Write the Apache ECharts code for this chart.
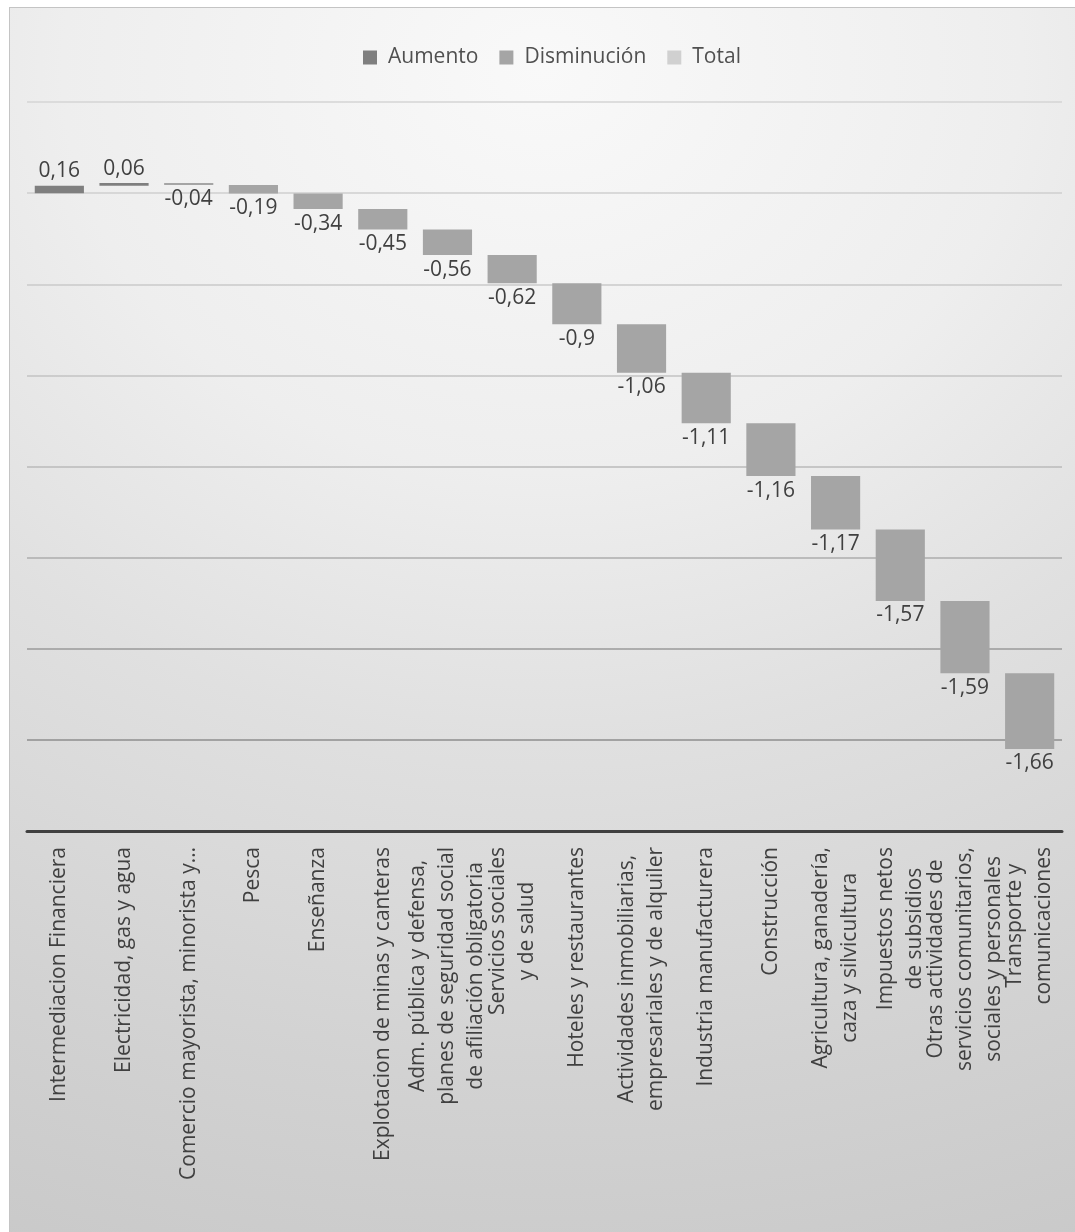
<!DOCTYPE html>
<html>
<head>
<meta charset="utf-8">
<script src="https://cdn.jsdelivr.net/npm/echarts@6/dist/echarts.min.js"></script>
<style>
  html, body { margin: 0; padding: 0; background: #ffffff; }
  #bg {
    position: absolute; left: 9px; top: 7px; width: 1066px; height: 1225px;
    box-sizing: border-box;
    border-left: 1px solid #c4c4c4; border-top: 1px solid #c4c4c4;
    background: radial-gradient(ellipse 150% 110% at 50% 5%,
      #f9f9f9 0%, #eeeeee 30%, #e0e0e0 50%, #d2d2d2 75%, #c6c6c6 100%);
  }
  #chart { position: absolute; left: 0; top: 0; width: 1075px; height: 1232px; }
</style>
</head>
<body>
<div id="bg"></div>
<div id="chart"></div>
<script>
// Sector contributions (percentage points), in display order
const categories = [
  'Intermediacion Financiera',
  'Electricidad, gas y agua',
  'Comercio mayorista, minorista y…',
  'Pesca',
  'Enseñanza',
  'Explotacion de minas y canteras',
  'Adm. pública y defensa,\nplanes de seguridad social\nde afiliación obligatoria',
  'Servicios sociales\ny de salud',
  'Hoteles y restaurantes',
  'Actividades inmobiliarias,\nempresariales y de alquiler',
  'Industria manufacturera',
  'Construcción',
  'Agricultura, ganadería,\ncaza y silvicultura',
  'Impuestos netos\nde subsidios',
  'Otras actividades de\nservicios comunitarios,\nsociales y personales',
  'Transporte y\ncomunicaciones'
];
const changes = [0.16, 0.06, -0.04, -0.19, -0.34, -0.45, -0.56, -0.62, -0.9, -1.06, -1.11, -1.16, -1.17, -1.57, -1.59, -1.66];
const seriesNames = ['Aumento', 'Disminución', 'Total'];
const seriesColors = ['#7f7f7f', '#a5a5a5', '#d0d0d0'];
const valueTicks = { min: -14, max: 2, interval: 2 };

// Running totals: each step floats from the previous cumulative level
const increases = [];
const decreases = [];
let level = 0;
changes.forEach((v, i) => {
  const start = level;
  const end = Math.round((level + v) * 100) / 100;
  (v >= 0 ? increases : decreases).push([i, start, end, v]);
  level = end;
});

const fmt = v => String(v).replace('.', ',');
const FONT = '"Open Sans", "DejaVu Sans", sans-serif';
const FS = 21;

function renderStep(params, api) {
  const idx = api.value(0);
  const v = api.value(3);
  const p0 = api.coord([idx, api.value(1)]);
  const p1 = api.coord([idx, api.value(2)]);
  const w = api.size([1, 0])[0] * 0.76;
  const top = Math.min(p0[1], p1[1]);
  const h = Math.max(Math.abs(p0[1] - p1[1]), 1);
  const up = v >= 0;
  return {
    type: 'group',
    children: [
      { type: 'rect', shape: { x: p0[0] - w / 2, y: top, width: w, height: h },
        style: { fill: api.visual('color') } },
      { type: 'text', style: {
          text: fmt(v), x: p0[0], y: up ? top - 4 : top + h + 4,
          align: 'center', verticalAlign: up ? 'bottom' : 'top',
          fontSize: FS, fontFamily: FONT, fill: '#404040' } }
    ]
  };
}

const chart = echarts.init(document.getElementById('chart'), null, { renderer: 'canvas' });
chart.setOption({
  backgroundColor: 'transparent',
  animation: false,
  legend: {
    data: seriesNames,
    left: 358, top: 42,
    icon: 'rect', itemWidth: 14, itemHeight: 14, itemGap: 21,
    textStyle: { fontSize: FS, fontFamily: FONT, color: '#505050', padding: [0, 0, 0, 6] }
  },
  grid: { left: 27, right: 13, top: 102, bottom: 401, containLabel: false, outerBoundsMode: 'none' },
  xAxis: {
    type: 'category',
    data: categories,
    axisLine: { onZero: false, lineStyle: { color: '#404040', width: 3 } },
    axisTick: { show: false },
    axisLabel: {
      interval: 0, rotate: 90, margin: 16, hideOverlap: false,
      fontSize: FS, fontFamily: FONT, color: '#404040', lineHeight: 29,
      formatter: v => v.split('\n').map(s => '{c|' + s + '}').join('\n'),
      rich: { c: { align: 'center', fontSize: FS, fontFamily: FONT, color: '#404040', lineHeight: 29 } }
    }
  },
  yAxis: {
    type: 'value',
    min: valueTicks.min, max: valueTicks.max, interval: valueTicks.interval,
    axisLine: { show: false }, axisTick: { show: false }, axisLabel: { show: false },
    splitLine: { show: true, lineStyle: { width: 1.5, color: [
      '#8a8a8a', '#8e8e8e', '#9a9a9a', '#adadad', '#bababa', '#c3c3c3', '#cacaca', '#cfcfcf', '#d4d4d4'
    ] } }
  },
  series: [
    { name: seriesNames[0], type: 'custom', renderItem: renderStep, data: increases,
      itemStyle: { color: seriesColors[0] }, encode: { x: 0, y: [1, 2] } },
    { name: seriesNames[1], type: 'custom', renderItem: renderStep, data: decreases,
      itemStyle: { color: seriesColors[1] }, encode: { x: 0, y: [1, 2] } },
    { name: seriesNames[2], type: 'custom', renderItem: renderStep, data: [],
      itemStyle: { color: seriesColors[2] } }
  ]
});
</script>
</body>
</html>
